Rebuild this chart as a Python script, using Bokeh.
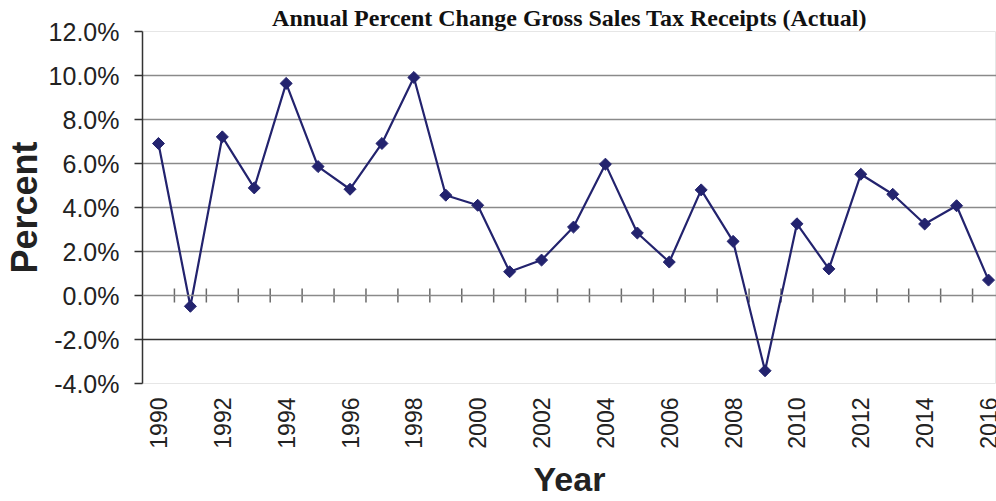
import math
from bokeh.plotting import figure
from bokeh.models import FixedTicker, PrintfTickFormatter, Span, Range1d, Title
from bokeh.embed import file_html
from bokeh.resources import INLINE

# ---- data ----
years = list(range(1990, 2017))
pct_change = [6.91, -0.49, 7.21, 4.89, 9.64, 5.86, 4.83, 6.91, 9.91, 4.56,
              4.10, 1.08, 1.61, 3.11, 5.97, 2.84, 1.52, 4.80, 2.46, -3.42,
              3.26, 1.21, 5.51, 4.60, 3.25, 4.08, 0.70]
y_ticks = [-4, -2, 0, 2, 4, 6, 8, 10, 12]
grid_ticks = [2, 4, 6, 8, 10]
x_label_years = list(range(1990, 2017, 2))
title_text = "Annual Percent Change Gross Sales Tax Receipts (Actual)"
y_title = "Percent"
x_title = "Year"

NAVY = "#23236E"
TEXT = "#222222"

x_start, x_end = 1989.5, 2016.25
y_start, y_end = -4, 12

p = figure(width=996, height=501,
           x_range=Range1d(x_start, x_end), y_range=Range1d(y_start, y_end),
           output_backend="svg", toolbar_location=None,
           min_border_left=142, min_border_right=0,
           min_border_top=31, min_border_bottom=118)
p.outline_line_color = "#e6e6e6"
p.background_fill_color = "white"
p.border_fill_color = "white"

# title
p.add_layout(Title(text=title_text, align="center", offset=3, standoff=2,
                   text_font="Liberation Serif", text_font_style="bold",
                   text_font_size="24px", text_color="#111111"), "above")

# grid
p.xgrid.visible = False
p.ygrid.ticker = FixedTicker(ticks=grid_ticks)
p.ygrid.grid_line_color = "#8a8a8a"
p.ygrid.grid_line_width = 1.5

# -2% line (dark) and 0% line (gray with category ticks)
p.add_layout(Span(location=-2, dimension="width", line_color="#333333", line_width=1.5))
p.add_layout(Span(location=0, dimension="width", line_color="#8a8a8a", line_width=1.5))
tick_x = [y + 0.5 for y in years[:-1]]
p.segment(x0=tick_x, y0=[-0.32] * len(tick_x), x1=tick_x, y1=[0.32] * len(tick_x),
          line_color="#6a6a6a", line_width=1.5)

# series
p.line(years, pct_change, line_color=NAVY, line_width=2.2)
p.scatter(years, pct_change, marker="square", angle=math.pi / 4, size=8.5,
          fill_color=NAVY, line_color=NAVY)

# y axis
ya = p.yaxis[0]
ya.ticker = FixedTicker(ticks=y_ticks)
ya.formatter = PrintfTickFormatter(format="%.1f%%")
ya.major_label_text_font = "Liberation Sans"
ya.major_label_text_font_size = "25px"
ya.major_label_text_color = TEXT
ya.major_tick_out = 8
ya.major_tick_in = 0
ya.minor_tick_out = 0
ya.minor_tick_in = 0
ya.axis_line_color = "#333333"
ya.axis_line_width = 1.5
ya.major_tick_line_color = "#333333"
ya.major_tick_line_width = 1.5
ya.major_label_standoff = 15
ya.axis_label = y_title
ya.axis_label_text_font = "Liberation Sans"
ya.axis_label_text_font_style = "bold"
ya.axis_label_text_font_size = "36px"
ya.axis_label_text_color = TEXT
ya.axis_label_standoff = 1

# x axis
xa = p.xaxis[0]
xa.ticker = FixedTicker(ticks=x_label_years)
xa.major_label_orientation = math.pi / 2
xa.major_label_text_font = "Liberation Sans"
xa.major_label_text_font_size = "23px"
xa.major_label_text_color = TEXT
xa.major_tick_out = 0
xa.major_tick_in = 0
xa.minor_tick_out = 0
xa.minor_tick_in = 0
xa.axis_line_color = None
xa.major_label_standoff = 14
xa.axis_label = x_title
xa.axis_label_text_font = "Liberation Sans"
xa.axis_label_text_font_style = "bold"
xa.axis_label_text_font_size = "34px"
xa.axis_label_text_color = TEXT
xa.axis_label_standoff = 8

open("out.html", "w").write(file_html(p, INLINE))
